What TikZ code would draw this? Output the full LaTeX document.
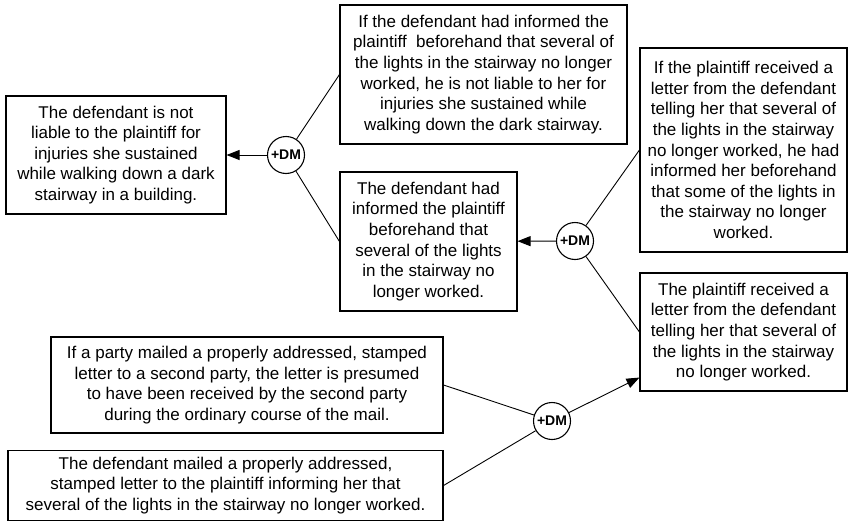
\documentclass[tikz,border=0pt]{standalone}
\usepackage{fontspec}
\setmainfont{Liberation Sans}
\usetikzlibrary{arrows.meta}
\begin{document}
\begin{tikzpicture}[x=1pt,y=-1pt,
    prop/.style={draw, line width=1.1pt, align=center, inner sep=0pt,
        font=\fontsize{17}{20.6}\selectfont},
    dm/.style={draw, circle, line width=1.1pt, minimum size=37pt, inner sep=0pt,
        font=\fontsize{14}{16}\selectfont\bfseries},
    link/.style={line width=0.9pt},
    support/.style={link, -{Triangle[length=13pt,width=10pt]}}]
\useasboundingbox (0,0) rectangle (848,522);

% Define node positions
\node[prop, minimum width=220pt, minimum height=118pt] (A) at (116,155)
    {The defendant is not\\ liable to the plaintiff for\\ injuries she sustained\\
     while walking down a dark\\ stairway in a building.};
\node[prop, minimum width=287pt, minimum height=139pt] (B) at (483.5,74.5)
    {If the defendant had informed the\\ plaintiff\ \ beforehand that several of\\
     the lights in the stairway no longer\\ worked, he is not liable to her for\\
     injuries she sustained while\\ walking down the dark stairway.};
\node[prop, minimum width=177pt, minimum height=139pt] (C) at (428.5,241.5)
    {The defendant had\\ informed the plaintiff\\ beforehand that\\
     several of the lights\\ in the stairway no\\ longer worked.};
\node[prop, minimum width=207pt, minimum height=204pt] (D) at (743.5,150)
    {If the plaintiff received a\\ letter from the defendant\\ telling her that several of\\
     the lights in the stairway\\ no longer worked, he had\\ informed her beforehand\\
     that some of the lights in\\ the stairway no longer\\ worked.};
\node[prop, minimum width=207pt, minimum height=118pt] (E) at (743.5,332)
    {The plaintiff received a\\ letter from the defendant\\ telling her that several of\\
     the lights in the stairway\\ no longer worked.};
\node[prop, minimum width=392pt, minimum height=96pt] (F) at (247,385)
    {If a party mailed a properly addressed, stamped\\ letter to a second party, the letter is presumed\\
     to have been received by the second party\\ during the ordinary course of the mail.};
\node[prop, minimum width=435pt, minimum height=70pt] (G) at (225.5,485.5)
    {The defendant mailed a properly addressed,\\ stamped letter to the plaintiff informing her that\\
     several of the lights in the stairway no longer worked.};

\node[dm] (DM1) at (286,155) {+DM};
\node[dm] (DM2) at (575,241) {+DM};
\node[dm] (DM3) at (552,421) {+DM};

% Draw arrows
\draw[support] (DM1) -- (A);
\draw[link] (B.west) -- (DM1);
\draw[link] (C.west) -- (DM1);

\draw[support] (DM2) -- (C);
\draw[link] (D.west) -- (DM2);
\draw[link] (E.west) -- (DM2);

\draw[support] (DM3) -- ([yshift=14pt]E.south west);
\draw[link] (F.east) -- (DM3);
\draw[link] (G.east) -- (DM3);
\end{tikzpicture}
\end{document}
